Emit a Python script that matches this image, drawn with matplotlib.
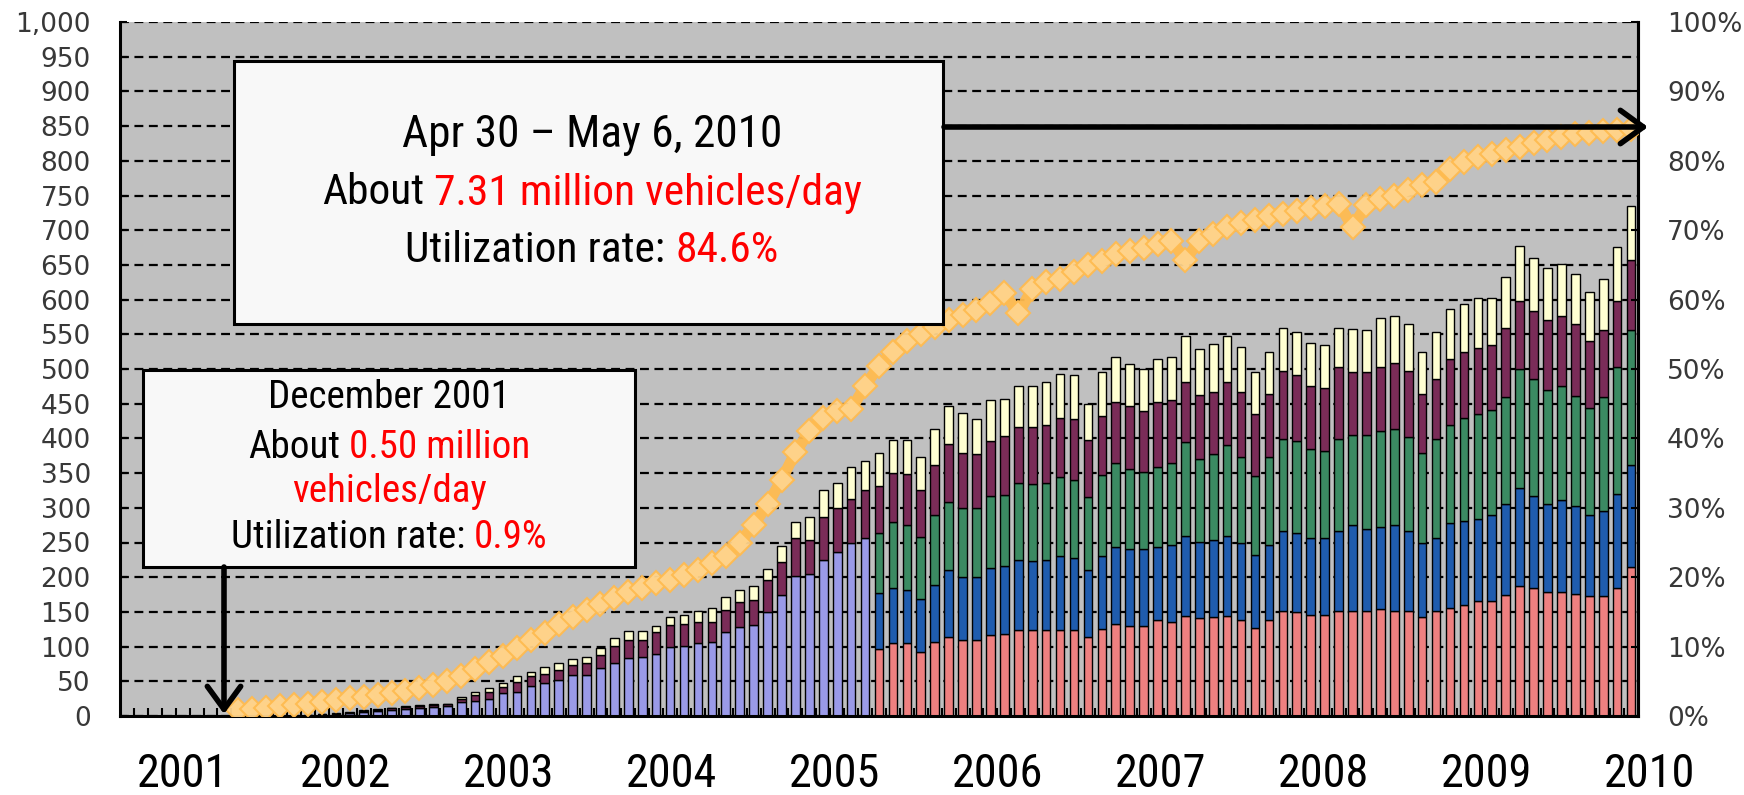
import numpy as np
import pandas as pd
import matplotlib
matplotlib.use('Agg')
import matplotlib.pyplot as plt
import matplotlib.transforms as mtransforms
from matplotlib.patches import Rectangle, FancyArrowPatch
from matplotlib import font_manager

# monthly categories, April 2001 .. April 2010
months = pd.period_range('2001-04', periods=109, freq='M')
n = len(months)

# before the Oct 2005 breakdown: one combined base series + two upper series (x10k vehicles/day)
early_from = '2002-04'
early_base = [1, 1.5, 2, 3, 4, 6, 7, 9, 10, 12,
              13, 14, 20, 21, 25, 33, 35, 43, 47, 52,
              59, 59, 69, 76, 83, 85, 90, 99, 101, 105,
              107, 121, 128, 131, 150, 174, 202, 204, 225, 237,
              249, 256]
early_maroon = [0, 0.5, 0.5, 0.5, 1, 1, 2, 2, 3, 3,
                3, 3, 5, 9, 10, 9, 14, 14, 14, 14,
                14, 17, 19, 25, 26, 24, 31, 32, 31, 31,
                29, 32, 36, 36, 46, 48, 54, 50, 62, 62,
                64, 69]
early_cream = [0, 0, 0.5, 0.5, 1, 1, 1, 1, 1, 1,
               2, 1, 3, 5, 5, 6, 8, 7, 10, 10,
               9, 9, 10, 11, 13, 13, 9, 11, 13, 16,
               20, 19, 18, 20, 16, 23, 24, 33, 38, 37,
               46, 43]

# from Oct 2005 on: five series
late_from = '2005-10'
late_salmon = [97, 105, 105, 92, 107, 114, 109, 109, 117, 118,
               124, 124, 124, 124, 124, 114, 125, 132, 129, 130,
               138, 136, 144, 141, 143, 144, 138, 127, 139, 151,
               150, 145, 146, 151, 152, 152, 154, 152, 151, 142,
               151, 156, 160, 166, 166, 175, 188, 184, 179, 178,
               176, 173, 173, 184, 215]
late_blue = [80, 80, 77, 77, 82, 96, 92, 92, 96, 98,
             101, 100, 101, 107, 103, 96, 105, 111, 112, 111,
             106, 110, 116, 110, 110, 116, 111, 105, 107, 115,
             113, 112, 111, 115, 123, 117, 118, 123, 115, 107,
             106, 122, 121, 118, 124, 130, 140, 133, 126, 133,
             126, 117, 123, 136, 146]
late_green = [86, 95, 93, 89, 100, 98, 99, 99, 104, 103,
              111, 110, 111, 113, 113, 106, 117, 121, 115, 111,
              115, 119, 135, 120, 125, 130, 124, 114, 127, 133,
              133, 128, 125, 133, 130, 136, 139, 139, 136, 130,
              142, 142, 148, 151, 151, 154, 172, 168, 165, 165,
              159, 154, 163, 183, 195]
late_maroon = [69, 70, 74, 67, 73, 84, 79, 77, 79, 84,
               81, 82, 84, 86, 88, 81, 85, 88, 90, 88,
               93, 90, 86, 91, 89, 91, 94, 89, 91, 98,
               95, 91, 91, 104, 90, 90, 92, 95, 95, 85,
               86, 95, 95, 95, 94, 100, 98, 98, 101, 101,
               104, 97, 97, 95, 101]
late_cream = [47, 48, 49, 48, 52, 54, 57, 51, 59, 54,
              59, 59, 61, 63, 63, 53, 64, 65, 61, 60,
              63, 62, 67, 67, 69, 67, 64, 61, 60, 62,
              62, 62, 62, 56, 62, 61, 71, 68, 68, 61,
              68, 71, 69, 72, 68, 74, 79, 77, 74, 75,
              72, 70, 74, 78, 78]

# utilization rate (%), from Dec 2001
util_from = '2001-12'
util = [0.9, 1.0, 1.2, 1.4, 1.6, 1.8, 2.0, 2.3, 2.6, 2.8,
        3.0, 3.3, 3.6, 4.0, 4.4, 5.0, 5.8, 6.8, 7.8, 8.6,
        9.8, 11.0, 12.0, 13.2, 14.2, 15.3, 16.2, 17.0, 17.8, 18.5,
        19.2, 19.6, 20.3, 21.0, 22.0, 23.0, 25.0, 27.5, 30.5, 34.0,
        38.0, 41.0, 43.0, 44.0, 44.2, 47.5, 50.5, 52.5, 54.0, 55.0,
        56.0, 57.0, 57.8, 58.5, 59.5, 61.0, 58.0, 61.5, 62.5, 63.0,
        64.0, 65.0, 65.5, 66.5, 67.0, 67.5, 68.0, 68.5, 65.7, 68.5,
        69.5, 70.5, 71.0, 71.5, 72.0, 72.3, 72.8, 73.2, 73.5, 73.8,
        70.5, 73.6, 74.5, 75.0, 75.8, 76.5, 77.0, 78.8, 79.8, 80.5,
        81.0, 81.5, 82.0, 82.5, 83.0, 83.5, 83.8, 84.0, 84.3, 84.5,
        84.6]

years = ['2001', '2002', '2003', '2004', '2005', '2006', '2007', '2008', '2009', '2010']

W, H = 1744, 795
names = {f.name for f in font_manager.fontManager.ttflist}
narrow = 'DejaVu Sans'
for cand in ['Liberation Sans Narrow', 'Arial Narrow', 'Roboto Condensed', 'Archivo Narrow',
             'IBM Plex Sans Condensed', 'Open Sans Condensed']:
    if cand in names:
        narrow = cand
        break


def place(start, vals):
    out = np.zeros(n)
    i = months.get_loc(pd.Period(start, freq='M'))
    out[i:i + len(vals)] = vals
    return out


base_early = place(early_from, early_base)
salmon = place(late_from, late_salmon)
blue = place(late_from, late_blue)
green = place(late_from, late_green)
maroon = place(early_from, early_maroon) + place(late_from, late_maroon)
cream = place(early_from, early_cream) + place(late_from, late_cream)

fig = plt.figure(figsize=(W / 100, H / 100), dpi=100)
ax = fig.add_axes([120 / W, (H - 716) / H, (1638 - 120) / W, (716 - 22) / H])
ax.set_facecolor('#c0c0c0')
x = np.arange(n)

bw = 0.62
stack = [(base_early, '#9a9ae8'), (salmon, '#ee8080'), (blue, '#1f5cae'),
         (green, '#3b8a62'), (maroon, '#7a2c58'), (cream, '#ffffd2')]
bottom = np.zeros(n)
for vals, col in stack:
    m = vals > 0
    ax.bar(x[m], vals[m], bw, bottom=bottom[m], color=col, edgecolor='black', linewidth=1.0, zorder=2)
    bottom = bottom + vals

ax.set_xlim(-0.5, n - 0.5)
ax.set_ylim(0, 1000)
ax.set_yticks(np.arange(0, 1001, 50))
ax.set_yticklabels([f'{v:,}' for v in range(0, 1001, 50)])
ax.set_xticks(np.arange(0.5, n - 1, 1))
ax.set_xticklabels([])
ax.tick_params(axis='x', direction='in', length=6, width=1.5)
ax.tick_params(axis='y', direction='in', length=5, width=1.5, pad=21, labelsize=19, labelcolor='#383838')
ax.yaxis.grid(True, color='black', linestyle=(0, (4, 2.5)), linewidth=1.6)
ax.set_axisbelow(True)
for s in ['left', 'bottom', 'right']:
    ax.spines[s].set_linewidth(2.2)
ax.spines['top'].set_visible(False)

ax2 = ax.twinx()
ax2.set_ylim(0, 100)
ax2.set_yticks(range(0, 101, 10))
ax2.set_yticklabels([f'{v}%' for v in range(0, 101, 10)])
ax2.tick_params(axis='y', direction='in', length=5, width=1.5, pad=21, labelsize=19, labelcolor='#383838')
for s in ['left', 'bottom', 'top']:
    ax2.spines[s].set_visible(False)
ax2.spines['right'].set_linewidth(2.2)

xu = np.arange(len(util)) + months.get_loc(pd.Period(util_from, freq='M'))
ax2.plot(xu, util, color='#ffbb50', lw=8, marker='D', ms=12, mfc='#ffd48c',
         mec='#ffbb50', mew=1.5, solid_joinstyle='round', alpha=0.95, zorder=5)

renderer = fig.canvas.get_renderer()


def fit_size(text, target_w, size=30):
    t = fig.text(0, 0, text, fontsize=size, family=narrow)
    w = t.get_window_extent(renderer=renderer).width
    t.remove()
    return size * target_w / w


# year labels under the axis
ysize = fit_size('2001', 72) * 1.27
tr = mtransforms.blended_transform_factory(ax.transData, fig.transFigure)
for i, yr in enumerate(years):
    ax.text(4.0 + 11.7 * i, 1 - 774 / H, yr, transform=tr, ha='center', va='center',
            fontsize=ysize, family=narrow, color='black')


def fx(px):
    return px / W


def fy(py):
    return 1 - py / H


# callout boxes
fig.add_artist(Rectangle((fx(234), fy(324)), (943 - 234) / W, (324 - 61) / H, transform=fig.transFigure,
                         facecolor='#f8f8f8', edgecolor='black', linewidth=2.2, zorder=6))
fig.add_artist(Rectangle((fx(143), fy(567)), (635 - 143) / W, (567 - 370) / H, transform=fig.transFigure,
                         facecolor='#f8f8f8', edgecolor='black', linewidth=2.2, zorder=6))


def two_tone(cx, cy, black, red, size):
    full = ' '.join(s for s in (black, red) if s)
    t = fig.text(fx(cx), fy(cy), full, fontsize=size, family=narrow, ha='center', va='center', zorder=7)
    bb = t.get_window_extent(renderer=renderer)
    t.remove()
    if black:
        fig.text(bb.x0 / W, fy(cy), black, fontsize=size, family=narrow, ha='left', va='center',
                 color='black', zorder=7)
    if red:
        fig.text(bb.x1 / W, fy(cy), red, fontsize=size, family=narrow, ha='right', va='center',
                 color='#ff0000', zorder=7)


s1 = fit_size('About 7.31 million vehicles/day', 540)
two_tone(592, 135, 'Apr 30 \u2013 May 6, 2010', '', s1 * 1.04)
two_tone(592, 193, 'About', '7.31 million vehicles/day', s1)
two_tone(592, 250, 'Utilization rate:', '84.6%', s1)

s2 = fit_size('Utilization rate: 0.9%', 317)
two_tone(389, 398, 'December 2001', '', s2)
two_tone(389, 447, 'About', '0.50 million', s2)
two_tone(389, 492, '', 'vehicles/day', s2)
two_tone(389, 537, 'Utilization rate:', '0.9%', s2)

# arrows
for a, b in [((944, 127), (1648, 127)), ((224, 567), (224, 714))]:
    fig.add_artist(FancyArrowPatch((fx(a[0]), fy(a[1])), (fx(b[0]), fy(b[1])), transform=fig.transFigure,
                                   arrowstyle='->,head_length=0.55,head_width=0.4', mutation_scale=30,
                                   lw=4, color='black', shrinkA=0, shrinkB=0, zorder=8))

fig.savefig('out.png', dpi=100)
